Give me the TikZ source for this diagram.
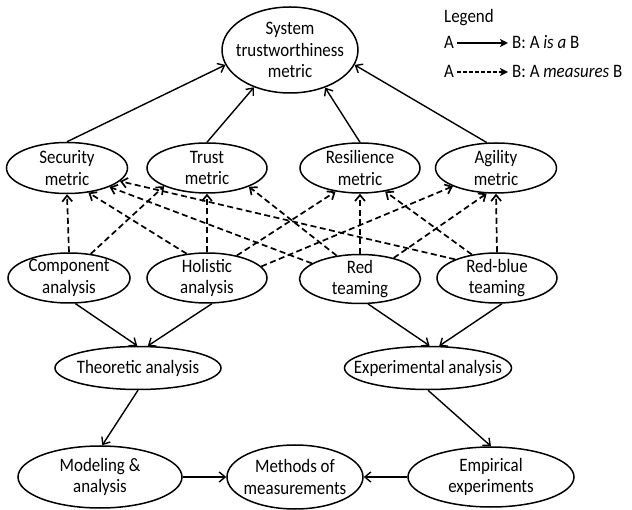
\documentclass[tikz,border=0pt]{standalone}
\usepackage{fontspec}
\setmainfont{Carlito}[FakeStretch=0.89]
\usetikzlibrary{arrows.meta,shapes.geometric}
\begin{document}
\begin{tikzpicture}[x=1pt,y=-1pt,
  oval/.style={ellipse, draw, line width=1.5pt, inner sep=0pt},
  txt/.style={font=\fontsize{19}{21.5}\selectfont, align=center, inner sep=0pt},
  legtxt/.style={txt, anchor=west, text height=12pt, text depth=0pt},
  isa/.style={line width=1.4pt, -{Straight Barb[length=6pt,width=10pt]}},
  meas/.style={line width=1.7pt, dash pattern=on 6pt off 3.5pt,
               -{Straight Barb[length=6pt,width=10pt]}},
  legisa/.style={line width=1.7pt, -{Stealth[length=8pt,width=8pt,inset=2pt]}},
  legmeas/.style={line width=2.2pt, dash pattern=on 4pt off 2pt,
                  -{Stealth[length=8pt,width=8pt,inset=2pt]}}]
\useasboundingbox (0,0) rectangle (632,510);

% metrics
\node[oval, minimum width=136, minimum height=86,
      label={[txt]center:{System\\trustworthiness\\metric}}] (sys) at (290,50) {};
\node[oval, minimum width=121, minimum height=51,
      label={[txt]center:{Security\\metric}}] (sec) at (67,168) {};
\node[oval, minimum width=120, minimum height=50,
      label={[txt]center:{Trust\\metric}}] (trust) at (207,168) {};
\node[oval, minimum width=120, minimum height=50,
      label={[txt]center:{Resilience\\metric}}] (res) at (360,168) {};
\node[oval, minimum width=121, minimum height=50,
      label={[txt]center:{Agility\\metric}}] (agi) at (496,168) {};

% analysis approaches
\node[oval, minimum width=122, minimum height=50,
      label={[txt]center:{Component\\analysis}}] (comp) at (69,278) {};
\node[oval, minimum width=120, minimum height=50,
      label={[txt]center:{Holistic\\analysis}}] (hol) at (207,278) {};
\node[oval, minimum width=121, minimum height=49,
      label={[txt]center:{Red\\teaming}}] (red) at (360,279) {};
\node[oval, minimum width=120, minimum height=50,
      label={[txt]center:{Red-blue\\teaming}}] (rb) at (497,278) {};

\node[oval, minimum width=166, minimum height=43,
      label={[txt]center:{Theoretic analysis}}] (theo) at (138,368) {};
\node[oval, minimum width=167, minimum height=43,
      label={[txt]center:{Experimental analysis}}] (exp) at (428,368) {};

\node[oval, minimum width=164, minimum height=62,
      label={[txt]center:{Modeling \&\\analysis}}] (model) at (100,477) {};
\node[oval, minimum width=136, minimum height=64,
      label={[txt]center:{Methods of\\measurements}}] (meth) at (295,477) {};
\node[oval, minimum width=166, minimum height=60,
      label={[txt]center:{Empirical\\experiments}}] (emp) at (491,477) {};

% "is a" relations
\draw[isa] (sec.north) -- (sys.193);
\draw[isa] (trust.north) -- (sys.226);
\draw[isa] (res.north) -- (sys.313);
\draw[isa] (agi.110) -- (sys.347);
\draw[isa] (comp.284) -- (theo.92);
\draw[isa] (hol.281) -- (theo.66);
\draw[isa] (red.288) -- (exp.86);
\draw[isa] (rb.281) -- (exp.63);
\draw[isa] (theo.south) -- (model.86);
\draw[isa] (exp.south) -- (emp.north);
\draw[isa] (model.east) -- (meth.west);
\draw[isa] (emp.west) -- (meth.east);

% "measures" relations
\draw[meas] (comp.north) -- (sec.south);
\draw[meas] (comp.48) -- (trust.203);
\draw[meas] (hol.130) -- (sec.311);
\draw[meas] (hol.north) -- (trust.south);
\draw[meas] (hol.37) -- (res.224);
\draw[meas] (hol.12) -- (agi.203);
\draw[meas] (red.162) -- (sec.336);
\draw[meas] (red.135) -- (trust.336);
\draw[meas] (red.north) -- (res.south);
\draw[meas] (red.32) -- (agi.250);
\draw[meas] (rb.156) -- (sec.346);
\draw[meas] (rb.137) -- (res.317);
\draw[meas] (rb.north) -- (agi.south);

% legend
\node[txt, anchor=west] (leg) at (444,18) {Legend};
\node[legtxt] (la1) at (444,43) {A};
\node[legtxt] (lb1) at (512,43) {B: A \textit{is a} B};
\node[legtxt] (la2) at (444,72) {A};
\node[legtxt] (lb2) at (512,72) {B: A \textit{measures} B};
\draw[legisa, shorten <=3pt, shorten >=4pt] (la1.east) -- (lb1.west);
\draw[legmeas, shorten <=3pt, shorten >=4pt] (la2.east) -- (lb2.west);
\end{tikzpicture}
\end{document}
